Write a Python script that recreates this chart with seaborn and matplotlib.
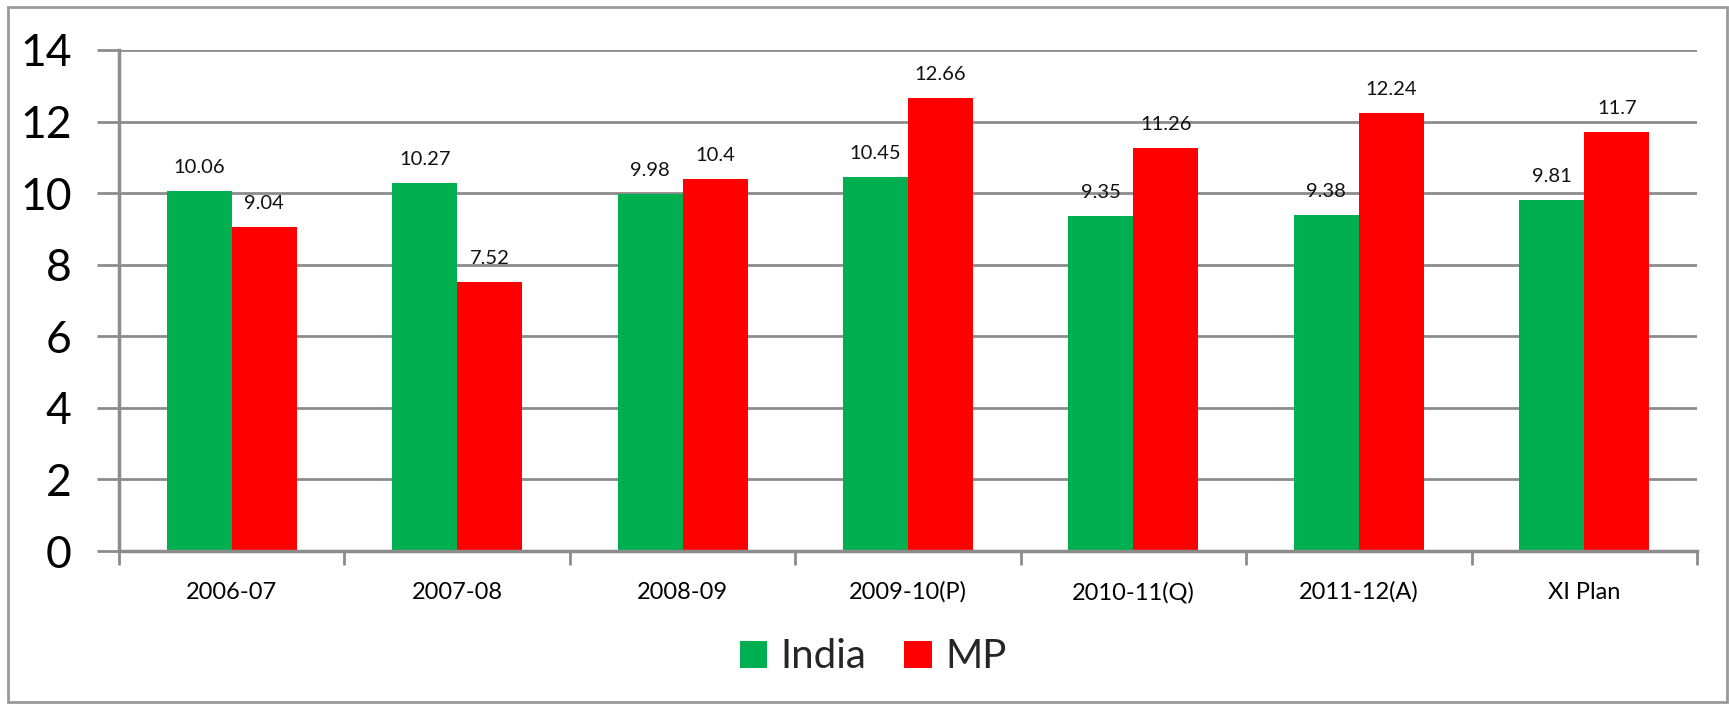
import numpy as np
import pandas as pd
import seaborn as sns
import matplotlib.pyplot as plt
from matplotlib.patches import Rectangle

# data
years = ["2006-07", "2007-08", "2008-09", "2009-10(P)", "2010-11(Q)", "2011-12(A)", "XI Plan"]
india = [10.06, 10.27, 9.98, 10.45, 9.35, 9.38, 9.81]
mp = [9.04, 7.52, 10.4, 12.66, 11.26, 12.24, 11.7]
series = ["India", "MP"]
colors = ["#00B050", "#FF0000"]

df = pd.DataFrame({
    "year": years * 2,
    "growth": india + mp,
    "region": ["India"] * len(years) + ["MP"] * len(years),
})

sns.set_style("white")
plt.rcParams["font.family"] = ["Lato", "DejaVu Sans"]
grid_col = "#8c8c8c"

fig = plt.figure(figsize=(17.29, 7.05), dpi=100)
ax = fig.add_axes([119 / 1729, 1 - 551 / 705, (1697 - 119) / 1729, (551 - 50) / 705])

sns.barplot(data=df, x="year", y="growth", hue="region", order=years,
            hue_order=series, palette=colors, width=0.577, saturation=1,
            gap=0, linewidth=0, ax=ax, legend=True)

for cont in ax.containers:
    ax.bar_label(cont, labels=[f"{v:g}" for v in cont.datavalues],
                 padding=11, fontsize=14.5, color="#111111")

ax.set_xlim(-0.5, len(years) - 0.5)
ax.set_ylim(0, 14)
ax.set_yticks(np.arange(0, 15, 2))
ax.yaxis.grid(True, color=grid_col, linewidth=2)
ax.set_axisbelow(True)
ax.tick_params(axis="y", labelsize=32, length=16, width=2, color=grid_col,
               pad=18, left=True, labelcolor="black")
ax.tick_params(axis="x", labelsize=17, length=0, pad=22, labelcolor="black")
ax.set_xticks(np.arange(-0.5, len(years)), minor=True)
ax.tick_params(axis="x", which="minor", length=10, width=2, color=grid_col, bottom=True)
ax.set_xlabel("")
ax.set_ylabel("")
for s in ["top", "right"]:
    ax.spines[s].set_visible(False)
for s in ["left", "bottom"]:
    ax.spines[s].set_color(grid_col)
    ax.spines[s].set_linewidth(2.5)

handles, labels = ax.get_legend_handles_labels()
ax.get_legend().remove()
fig.legend(handles, labels, loc="center", bbox_to_anchor=(873 / 1729, 1 - 657 / 705),
           ncol=2, frameon=False, fontsize=29, handlelength=0.68, handleheight=0.68,
           handletextpad=0.33, columnspacing=0.95)

fig.patches.append(Rectangle((8 / 1729, 0.004), (1727 - 8) / 1729, 1 - 7 / 705 - 0.004,
                             transform=fig.transFigure, fill=False,
                             edgecolor="#999999", linewidth=2))

fig.savefig("out.png", dpi=100)
